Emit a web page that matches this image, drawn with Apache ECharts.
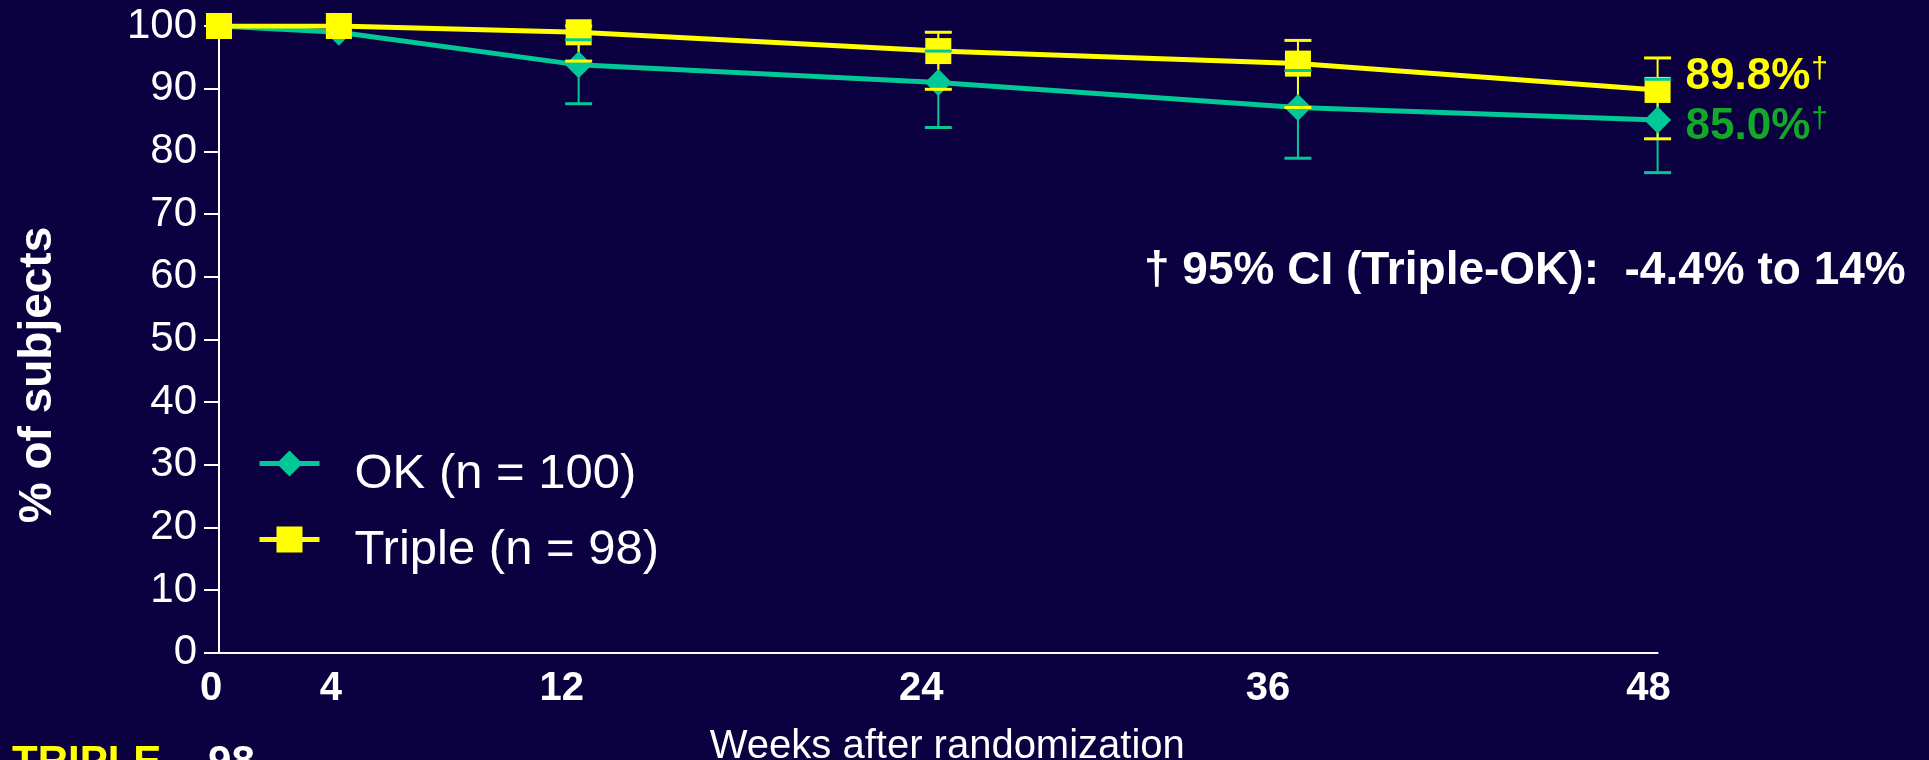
<!DOCTYPE html>
<html>
<head>
<meta charset="utf-8">
<script src="https://cdn.jsdelivr.net/npm/echarts@6/dist/echarts.min.js"></script>
<style>
  html, body { margin: 0; padding: 0; background: #0b0040; }
  #chart { width: 1929px; height: 760px; }
</style>
</head>
<body>
<div id="chart"></div>
<script>
// weeks after randomization and % of subjects still on regimen
const weeks = [0, 4, 12, 24, 36, 48];
const okPct = [100, 99, 93.8, 91, 87, 85.0];
const triplePct = [100, 100, 99, 96, 94, 89.8];

// 95% CI bars (drawn only from week 12 on)
const ciWeeks = [12, 24, 36, 48];
const okLow = [87.6, 83.8, 78.9, 76.6];
const okHigh = [97.8, 96.0, 92.9, 91.5];
const tripleLow = [94.4, 89.9, 87.0, 82.0];
const tripleHigh = [100, 99.0, 97.7, 94.9];

const yTicks = [0, 10, 20, 30, 40, 50, 60, 70, 80, 90, 100];
const seriesNames = ['OK (n = 100)', 'Triple (n = 98)'];

const BG = '#0b0040';
const TEAL = '#00c896';
const YELLOW = '#ffff00';
const GREEN_TXT = '#14a82a';
const SANS = "'Liberation Sans', Arial, sans-serif";

const chart = echarts.init(document.getElementById('chart'), null, { renderer: 'canvas' });

// the original's x labels sit a bit left of their ticks (px)
const xLabelShift = { 0: 8, 4: 8, 12: 17, 24: 17, 36: 30, 48: 9 };
const xRich = {};
weeks.forEach(w => {
  xRich['w' + w] = {
    color: '#fff', fontFamily: SANS, fontWeight: 'bold', fontSize: 40,
    padding: [0, (xLabelShift[w] || 0) * 2, 0, 0]
  };
});

function errorBars(part, color) {
  return function (params, api) {
    const x = api.value(0);
    const lo = api.coord([x, api.value(1)]);
    const hi = api.coord([x, api.value(2)]);
    if (part === 'stem') {
      return {
        type: 'line',
        shape: { x1: lo[0], y1: lo[1], x2: hi[0], y2: hi[1] },
        style: { stroke: color, lineWidth: 2 }
      };
    }
    const half = 13.5;
    return {
      type: 'group',
      children: [
        { type: 'line', shape: { x1: lo[0] - half, y1: lo[1], x2: lo[0] + half, y2: lo[1] }, style: { stroke: color, lineWidth: 3 } },
        { type: 'line', shape: { x1: hi[0] - half, y1: hi[1], x2: hi[0] + half, y2: hi[1] }, style: { stroke: color, lineWidth: 3 } }
      ]
    };
  };
}

const okCi = ciWeeks.map((w, i) => [w, okLow[i], okHigh[i]]);
const tripleCi = ciWeeks.map((w, i) => [w, tripleLow[i], tripleHigh[i]]);

function endLabel(color, dy) {
  return {
    show: true,
    distance: 28,
    offset: [0, dy],
    formatter: p => '{v|' + p.value[1].toFixed(1) + '%}{d|†}',
    rich: {
      v: { color: color, fontFamily: SANS, fontWeight: 'bold', fontSize: 44 },
      d: { color: color, fontFamily: SANS, fontSize: 30, padding: [0, 0, 14, 1] }
    }
  };
}

const option = {
  animation: false,
  backgroundColor: BG,
  grid: { left: 219, right: 271.4, top: 26, bottom: 107.3, outerBoundsMode: 'none', containLabel: false },
  legend: {
    orient: 'vertical',
    left: 252,
    top: 445,
    itemWidth: 60,
    itemHeight: 32.5,
    itemGap: 27,
    data: seriesNames,
    lineStyle: { width: 5 },
    formatter: name => '{t|' + name + '}',
    textStyle: {
      color: '#fff', fontFamily: SANS, fontSize: 49,
      rich: { t: { color: '#fff', fontFamily: SANS, fontSize: 49, padding: [22, 0, 0, 30] } }
    }
  },
  xAxis: {
    type: 'value',
    min: 0,
    max: 48,
    name: 'Weeks after randomization',
    nameLocation: 'middle',
    nameGap: 74,
    nameTextStyle: { color: '#fff', fontFamily: SANS, fontSize: 40, padding: [0, 0, 0, 18] },
    axisLine: { show: true, lineStyle: { color: '#fff', width: 2 } },
    axisTick: { show: false },
    splitLine: { show: false },
    axisLabel: {
      customValues: weeks,
      margin: 16,
      formatter: v => '{w' + v + '|' + v + '}',
      rich: xRich
    }
  },
  yAxis: {
    type: 'value',
    min: 0,
    max: 100,
    interval: 10,
    axisLine: { show: true, lineStyle: { color: '#fff', width: 2 } },
    axisTick: { show: true, length: 15, lineStyle: { color: '#fff', width: 2 } },
    splitLine: { show: false },
    axisLabel: {
      customValues: yTicks,
      color: '#fff', fontFamily: SANS, fontSize: 42, margin: 22
    }
  },
  graphic: [
    {
      type: 'text',
      x: 38.5, y: 375, rotation: Math.PI / 2,
      style: {
        text: '% of subjects', fill: '#fff', align: 'center', verticalAlign: 'middle',
        font: 'bold 46px ' + SANS
      }
    },
    {
      type: 'text',
      left: 1144, top: 248.5,
      style: {
        text: '† 95% CI (Triple-OK):  -4.4% to 14%', fill: '#fff',
        font: 'bold 46px ' + SANS
      }
    },
    {
      type: 'text',
      left: 12, top: 742,
      style: {
        text: '{y|TRIPLE}{w| – 98}',
        rich: {
          y: { fill: YELLOW, fontFamily: SANS, fontWeight: 'bold', fontSize: 42 },
          w: { fill: '#fff', fontFamily: SANS, fontWeight: 'bold', fontSize: 42 }
        }
      }
    }
  ],
  series: [
    {
      name: 'OK CI stem', type: 'custom', z: 1, silent: true,
      encode: { x: 0, y: [1, 2] },
      renderItem: errorBars('stem', TEAL), data: okCi
    },
    {
      name: 'Triple CI stem', type: 'custom', z: 1, silent: true,
      encode: { x: 0, y: [1, 2] },
      renderItem: errorBars('stem', YELLOW), data: tripleCi
    },
    {
      name: seriesNames[0], type: 'line', z: 2,
      data: weeks.map((w, i) => [w, okPct[i]]),
      symbol: 'diamond', symbolSize: 27,
      itemStyle: { color: TEAL, borderWidth: 0 },
      lineStyle: { color: TEAL, width: 5 },
      emphasis: { disabled: true },
      endLabel: endLabel(GREEN_TXT, 7)
    },
    {
      name: seriesNames[1], type: 'line', z: 3,
      data: weeks.map((w, i) => [w, triplePct[i]]),
      symbol: 'rect', symbolSize: 26,
      itemStyle: { color: YELLOW, borderWidth: 0 },
      lineStyle: { color: YELLOW, width: 5 },
      emphasis: { disabled: true },
      endLabel: endLabel(YELLOW, -13)
    },
    {
      name: 'OK CI caps', type: 'custom', z: 4, silent: true,
      encode: { x: 0, y: [1, 2] },
      renderItem: errorBars('caps', TEAL), data: okCi
    },
    {
      name: 'Triple CI caps', type: 'custom', z: 5, silent: true,
      encode: { x: 0, y: [1, 2] },
      renderItem: errorBars('caps', YELLOW), data: tripleCi
    }
  ]
};

chart.setOption(option);
</script>
</body>
</html>
